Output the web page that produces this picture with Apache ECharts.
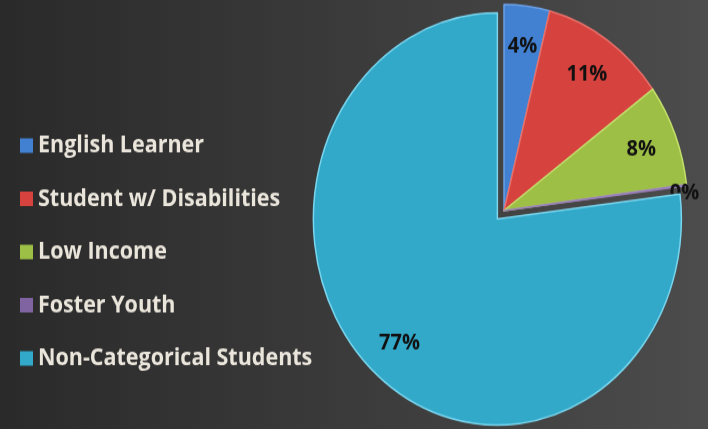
<!DOCTYPE html>
<html>
<head>
<meta charset="utf-8">
<script src="https://cdn.jsdelivr.net/npm/echarts@6/dist/echarts.min.js"></script>
<style>
  html, body {
    margin: 0;
    padding: 0;
    width: 708px;
    height: 429px;
    overflow: hidden;
    background: linear-gradient(to right, #2a2a2a, #4c4c4c);
  }
  /* the source picture is stretched a bit vertically */
  #main {
    width: 708px;
    height: 383px;
    transform: scaleY(1.12);
    transform-origin: 0 0;
  }
</style>
</head>
<body>
<div id="main"></div>
<script>
// data
const groups = ["English Learner", "Student w/ Disabilities", "Low Income", "Foster Youth", "Non-Categorical Students"]
const shares = [4, 11, 8, 0.1, 77]
const colors = ["#4281d1", "#d6433f", "#9dbf46", "#8064a2", "#33a9ca"]
const edges = ["#6aa0e6", "#e8706a", "#c2e06a", "#9a80bd", "#7ad6ee"]

const sliceData = groups.map((name, i) => ({
  name: name,
  value: shares[i],
  selected: i === 4,
  itemStyle: { color: colors[i], borderColor: edges[i] }
}))

// transparent copy only used to place the labels further out
const labelData = groups.map((name, i) => ({
  name: name,
  value: shares[i],
  selected: i === 4,
  label: name === "Foster Youth" ? { offset: [34, 3] } : undefined
}))

const chartContainer = document.getElementById("main")
const myChart = echarts.init(chartContainer)

const options = {
  animation: false,
  legend: {
    data: groups,
    orient: "vertical",
    left: 15,
    top: 114,
    itemWidth: 13,
    itemHeight: 13,
    itemGap: 25.5,
    icon: "rect",
    selectedMode: false,
    itemStyle: { borderWidth: 0 },
    textStyle: {
      color: "#ebe6dc",
      fontFamily: "Open Sans",
      fontWeight: "bold",
      fontSize: 21.5,
      lineHeight: 20
    }
  },
  series: [
    {
      type: "pie",
      center: [504, 188],
      radius: 184,
      startAngle: 90,
      clockwise: true,
      selectedMode: "single",
      selectedOffset: 10,
      silent: true,
      label: { show: false },
      labelLine: { show: false },
      itemStyle: { borderWidth: 1.5 },
      data: sliceData
    },
    {
      type: "pie",
      center: [504, 188],
      radius: ["55%", 184],
      startAngle: 90,
      clockwise: true,
      selectedMode: "single",
      selectedOffset: 10,
      silent: true,
      itemStyle: { color: "transparent" },
      label: {
        show: true,
        position: "inside",
        color: "#111",
        fontFamily: "Open Sans",
        fontWeight: "bold",
        fontSize: 20,
        formatter: p => Math.round(p.percent) + "%"
      },
      labelLine: { show: false },
      data: labelData
    }
  ]
}

myChart.setOption(options)
window.onresize = () => myChart.resize()
</script>
</body>
</html>
